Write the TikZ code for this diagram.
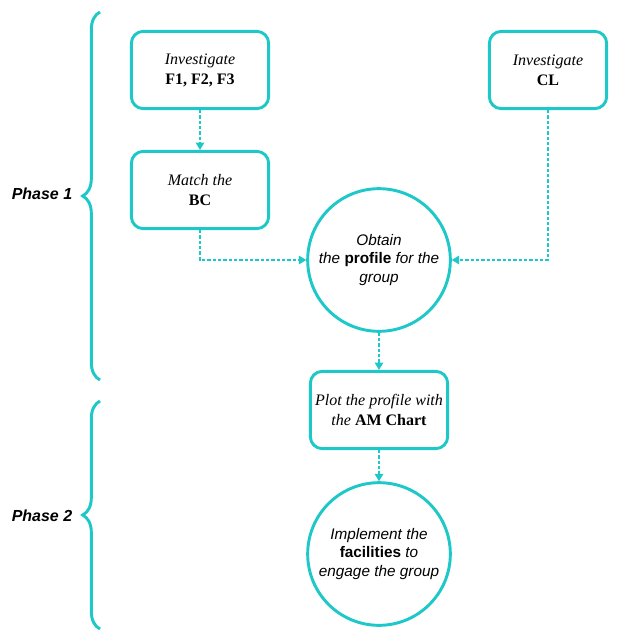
\documentclass[tikz,border=0pt]{standalone}
\usepackage{fontspec}
\setmainfont{Liberation Serif}
\setsansfont{Liberation Sans}
\usetikzlibrary{arrows.meta,decorations.pathreplacing}
\definecolor{phaseteal}{RGB}{30,200,200}

\begin{document}
\begin{tikzpicture}[x=0.75pt,y=-0.75pt,
  taskbox/.style={draw=phaseteal,line width=2.2pt,rounded corners=9pt,fill=white,
    minimum width=103pt,minimum height=58pt,align=center,
    font=\fontsize{12}{15}\selectfont},
  goalcircle/.style={circle,draw=phaseteal,line width=2.2pt,fill=white,
    minimum size=107pt,inner sep=0pt,align=center,
    font=\sffamily\fontsize{11.5}{14}\selectfont},
  flow/.style={draw=phaseteal,line width=0.8pt,dash pattern=on 2.5pt off 1.5pt,
    -{Triangle[width=6.5pt,length=5.5pt]}},
  phasebrace/.style={draw=phaseteal,line width=2.2pt,
    decorate,decoration={brace,amplitude=13pt,aspect=0.5}}]
\useasboundingbox (0,0) rectangle (640,641);

% Phase 1
\node[taskbox] (f) at (200,70) {\textit{Investigate}\\\textbf{F1, F2, F3}};
\node[taskbox,minimum width=88pt] (cl) at (548,70) {\textit{Investigate}\\\textbf{CL}};
\node[taskbox] (bc) at (200,190) {\textit{Match the}\\\textbf{BC}};
\node[goalcircle] (obtain) at (379,260) {\textit{Obtain}\\\textit{the} \textbf{profile} \textit{for the}\\\textit{group}};

% Phase 2
\node[taskbox] (am) at (379,410) {\textit{Plot the profile with}\\\textit{the} \textbf{AM Chart}};
\node[goalcircle] (impl) at (379,554) {\textit{Implement the}\\\textbf{facilities} \textit{to}\\\textit{engage the group}};

% connectors
\draw[flow] (f) -- (bc);
\draw[flow] (bc.south) |- (obtain.west);
\draw[flow] (cl.south) |- (obtain.east);
\draw[flow] (obtain) -- (am);
\draw[flow] (am) -- (impl);

% braces
\coordinate (p1bot) at (100,380);
\coordinate (p1top) at (100,12);
\coordinate (p2bot) at (100,629);
\coordinate (p2top) at (100,401);
\draw[phasebrace] (p1bot) -- (p1top);
\draw[phasebrace] (p2bot) -- (p2top);
\node[font=\sffamily\bfseries\itshape\fontsize{12}{14}\selectfont] (phase1) at (42,194) {Phase 1};
\node[font=\sffamily\bfseries\itshape\fontsize{12}{14}\selectfont] (phase2) at (42,516) {Phase 2};

\end{tikzpicture}
\end{document}
